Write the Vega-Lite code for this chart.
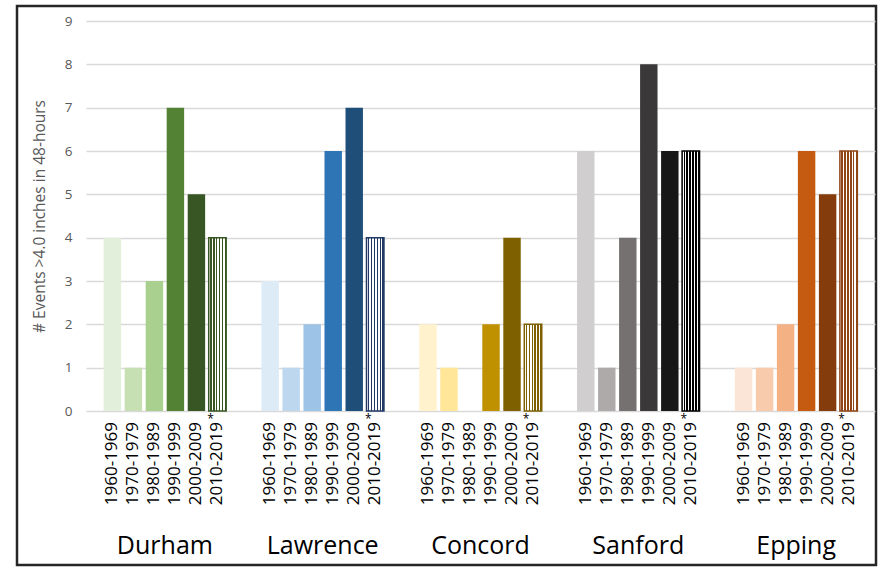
{
  "$schema": "https://vega.github.io/schema/vega-lite/v6.json",
  "width": 859,
  "height": 559,
  "autosize": {"type": "none"},
  "padding": {"left": 17, "top": 6, "right": 6, "bottom": 4},
  "background": "white",
  "config": {"view": {"stroke": "#262626", "strokeWidth": 2.5}, "font": "Open Sans"},
  "data": {"values": [
    {"city": "Durham", "decade": "1960-1969", "events": 4},
    {"city": "Durham", "decade": "1970-1979", "events": 1},
    {"city": "Durham", "decade": "1980-1989", "events": 3},
    {"city": "Durham", "decade": "1990-1999", "events": 7},
    {"city": "Durham", "decade": "2000-2009", "events": 5},
    {"city": "Durham", "decade": "2010-2019", "events": 4},
    {"city": "Lawrence", "decade": "1960-1969", "events": 3},
    {"city": "Lawrence", "decade": "1970-1979", "events": 1},
    {"city": "Lawrence", "decade": "1980-1989", "events": 2},
    {"city": "Lawrence", "decade": "1990-1999", "events": 6},
    {"city": "Lawrence", "decade": "2000-2009", "events": 7},
    {"city": "Lawrence", "decade": "2010-2019", "events": 4},
    {"city": "Concord", "decade": "1960-1969", "events": 2},
    {"city": "Concord", "decade": "1970-1979", "events": 1},
    {"city": "Concord", "decade": "1980-1989", "events": 0},
    {"city": "Concord", "decade": "1990-1999", "events": 2},
    {"city": "Concord", "decade": "2000-2009", "events": 4},
    {"city": "Concord", "decade": "2010-2019", "events": 2},
    {"city": "Sanford", "decade": "1960-1969", "events": 6},
    {"city": "Sanford", "decade": "1970-1979", "events": 1},
    {"city": "Sanford", "decade": "1980-1989", "events": 4},
    {"city": "Sanford", "decade": "1990-1999", "events": 8},
    {"city": "Sanford", "decade": "2000-2009", "events": 6},
    {"city": "Sanford", "decade": "2010-2019", "events": 6},
    {"city": "Epping", "decade": "1960-1969", "events": 1},
    {"city": "Epping", "decade": "1970-1979", "events": 1},
    {"city": "Epping", "decade": "1980-1989", "events": 2},
    {"city": "Epping", "decade": "1990-1999", "events": 6},
    {"city": "Epping", "decade": "2000-2009", "events": 5},
    {"city": "Epping", "decade": "2010-2019", "events": 6}
  ]},
  "transform": [{"calculate": "datum.city + ' ' + datum.decade", "as": "key"}],
  "encoding": {
    "x": {
      "field": "city", "type": "nominal",
      "sort": ["Durham", "Lawrence", "Concord", "Sanford", "Epping"],
      "scale": {"domain": ["Durham", "Lawrence", "Concord", "Sanford", "Epping"], "range": [69, 858], "paddingInner": 0, "paddingOuter": 0},
      "axis": {"orient": "bottom", "offset": -34, "domain": false, "ticks": false, "grid": false, "labelAngle": 0, "labelFontSize": 25, "labelColor": "#000000", "labelPadding": 2, "labelBaseline": "top", "title": null}
    },
    "xOffset": {
      "field": "decade", "type": "nominal",
      "sort": ["1960-1969", "1970-1979", "1980-1989", "1990-1999", "2000-2009", "2010-2019"],
      "scale": {"paddingInner": 0.17, "paddingOuter": 0.84}
    },
    "y": {
      "field": "events", "type": "quantitative",
      "scale": {"domain": [0, 9], "range": [405, 15], "nice": false, "zero": true},
      "axis": {
        "values": [0, 1, 2, 3, 4, 5, 6, 7, 8, 9], "offset": -68, "domain": false, "ticks": false,
        "labelPadding": 13, "labelFontSize": 13.5, "labelColor": "#595959",
        "grid": true, "gridColor": "#d9d9d9", "gridWidth": 1.3,
        "title": "# Events >4.0 inches in 48-hours", "titleFontSize": 15.5, "titleFontWeight": "normal",
        "titleColor": "#595959", "titlePadding": 17
      }
    }
  },
  "layer": [
    {
      "mark": {"type": "bar"},
      "encoding": {
        "color": {
          "field": "key", "type": "nominal", "legend": null,
          "scale": {
            "domain": [
              "Durham 1960-1969", "Durham 1970-1979", "Durham 1980-1989", "Durham 1990-1999", "Durham 2000-2009", "Durham 2010-2019",
              "Lawrence 1960-1969", "Lawrence 1970-1979", "Lawrence 1980-1989", "Lawrence 1990-1999", "Lawrence 2000-2009", "Lawrence 2010-2019",
              "Concord 1960-1969", "Concord 1970-1979", "Concord 1980-1989", "Concord 1990-1999", "Concord 2000-2009", "Concord 2010-2019",
              "Sanford 1960-1969", "Sanford 1970-1979", "Sanford 1980-1989", "Sanford 1990-1999", "Sanford 2000-2009", "Sanford 2010-2019",
              "Epping 1960-1969", "Epping 1970-1979", "Epping 1980-1989", "Epping 1990-1999", "Epping 2000-2009", "Epping 2010-2019"
            ],
            "range": [
              "#e2efda", "#c6e0b4", "#a9d08e", "#548235", "#375623", "#375623",
              "#ddebf7", "#bdd7ee", "#9dc3e6", "#2e75b6", "#1f4e79", "#1f3864",
              "#fff2cc", "#ffe699", "#ffd966", "#bf9000", "#7f6000", "#7f6000",
              "#d0cece", "#aeaaaa", "#767171", "#3a3838", "#171717", "#000000",
              "#fbe5d6", "#f8cbad", "#f4b183", "#c55a11", "#843c0c", "#8f4515"
            ]
          }
        }
      }
    },
    {
      "transform": [{"filter": "datum.decade === '2010-2019'"}],
      "mark": {
        "type": "bar", "strokeWidth": 1.5,
        "fill": {
          "gradient": "linear", "x1": 0, "y1": 0, "x2": 1, "y2": 0,
          "stops": [
            {"offset": 0, "color": "#ffffff"}, {"offset": 0.0833, "color": "#ffffff"},
            {"offset": 0.0833, "color": "rgba(255,255,255,0)"}, {"offset": 0.1667, "color": "rgba(255,255,255,0)"},
            {"offset": 0.1667, "color": "#ffffff"}, {"offset": 0.25, "color": "#ffffff"},
            {"offset": 0.25, "color": "rgba(255,255,255,0)"}, {"offset": 0.3333, "color": "rgba(255,255,255,0)"},
            {"offset": 0.3333, "color": "#ffffff"}, {"offset": 0.4167, "color": "#ffffff"},
            {"offset": 0.4167, "color": "rgba(255,255,255,0)"}, {"offset": 0.5, "color": "rgba(255,255,255,0)"},
            {"offset": 0.5, "color": "#ffffff"}, {"offset": 0.5833, "color": "#ffffff"},
            {"offset": 0.5833, "color": "rgba(255,255,255,0)"}, {"offset": 0.6667, "color": "rgba(255,255,255,0)"},
            {"offset": 0.6667, "color": "#ffffff"}, {"offset": 0.75, "color": "#ffffff"},
            {"offset": 0.75, "color": "rgba(255,255,255,0)"}, {"offset": 0.8333, "color": "rgba(255,255,255,0)"},
            {"offset": 0.8333, "color": "#ffffff"}, {"offset": 0.9167, "color": "#ffffff"},
            {"offset": 0.9167, "color": "rgba(255,255,255,0)"}, {"offset": 1, "color": "rgba(255,255,255,0)"}
          ]
        }
      },
      "encoding": {
        "stroke": {
          "field": "city", "type": "nominal", "legend": null,
          "scale": {
            "domain": ["Durham", "Lawrence", "Concord", "Sanford", "Epping"],
            "range": ["#375623", "#1f3864", "#7f6000", "#000000", "#8f4515"]
          }
        }
      }
    },
    {
      "mark": {"type": "text", "angle": 270, "align": "right", "baseline": "middle", "dx": -11, "fontSize": 17, "color": "#000000"},
      "encoding": {
        "y": {"datum": 0, "type": "quantitative"},
        "text": {"field": "decade", "type": "nominal"}
      }
    },
    {
      "transform": [{"filter": "datum.decade === '2010-2019'"}],
      "mark": {"type": "text", "text": "*", "align": "center", "baseline": "middle", "dx": -7, "dy": 8, "fontSize": 12, "color": "#000000"},
      "encoding": {
        "y": {"datum": 0, "type": "quantitative"}
      }
    }
  ]
}
